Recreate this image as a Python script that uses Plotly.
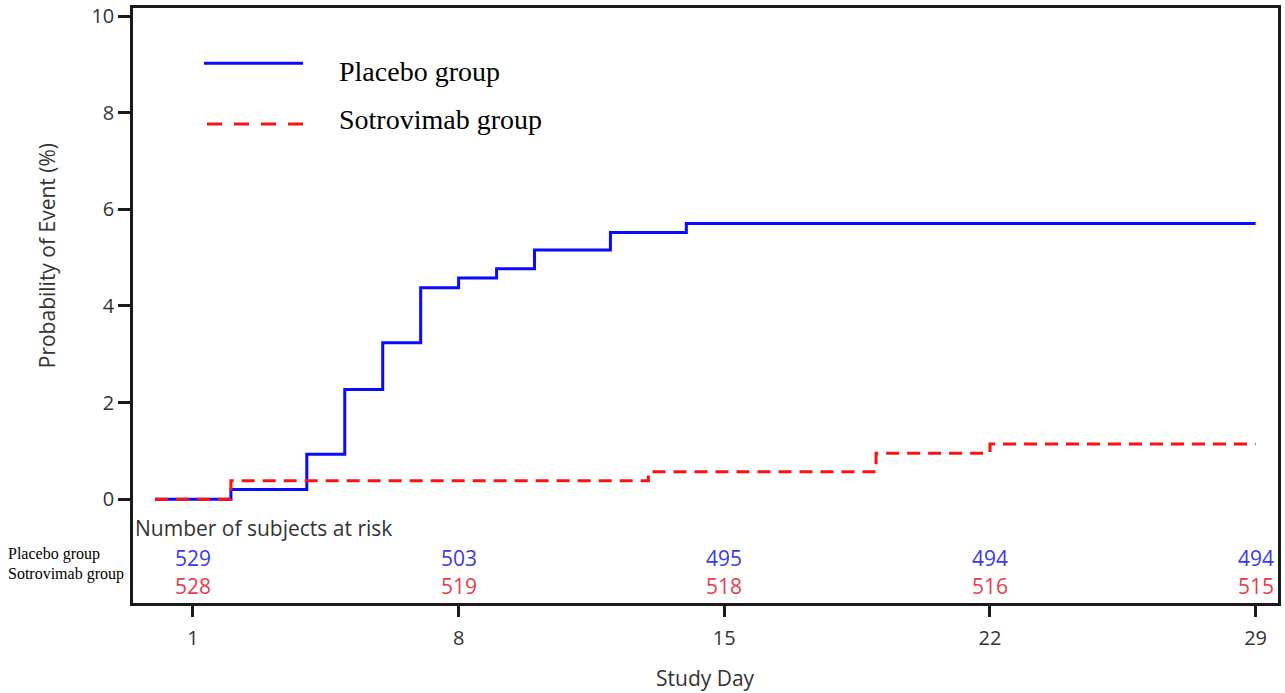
import plotly.graph_objects as go

# ---- data ----
placebo_days = [0, 2, 4, 5, 6, 7, 8, 9, 10, 12, 14, 29]
placebo_prob = [0, 0.2, 0.93, 2.27, 3.24, 4.38, 4.58, 4.77, 5.16, 5.52, 5.71, 5.71]
sotro_days = [0, 2, 13, 19, 22, 29]
sotro_prob = [0, 0.38, 0.57, 0.95, 1.14, 1.14]

risk_days = [1, 8, 15, 22, 29]
placebo_risk = [529, 503, 495, 494, 494]
sotro_risk = [528, 519, 518, 516, 515]

x_ticks = [1, 8, 15, 22, 29]
y_ticks = [0, 2, 4, 6, 8, 10]

BLUE = "#0a0aff"
RED = "#ff1010"
BLUE_TXT = "#3a3ae6"
RED_TXT = "#e6404a"
SANS = "Open Sans"
SERIF = "Liberation Serif"
GREY = "#333333"

fig = go.Figure()
fig.add_trace(go.Scatter(x=placebo_days, y=placebo_prob, mode="lines", line_shape="hv",
                         line=dict(color=BLUE, width=3), name="Placebo group", showlegend=False))
fig.add_trace(go.Scatter(x=sotro_days, y=sotro_prob, mode="lines", line_shape="hv",
                         line=dict(color=RED, width=3, dash="13px,8px"), name="Sotrovimab group",
                         showlegend=False))

# risk table
fig.add_annotation(x=0.0, xref="paper", y=-0.59, yref="y", text="Number of subjects at risk",
                   showarrow=False, xanchor="left", yanchor="middle",
                   font=dict(family=SANS, size=21, color=GREY))
for d, n in zip(risk_days, placebo_risk):
    fig.add_annotation(x=d, y=-1.22, text=str(n), showarrow=False, xanchor="center", yanchor="middle",
                       font=dict(family=SANS, size=21, color=BLUE_TXT))
for d, n in zip(risk_days, sotro_risk):
    fig.add_annotation(x=d, y=-1.79, text=str(n), showarrow=False, xanchor="center", yanchor="middle",
                       font=dict(family=SANS, size=21, color=RED_TXT))

# row labels outside the plot
fig.add_annotation(x=-0.1105, xref="paper", y=-1.14, yref="y", text="Placebo group", showarrow=False,
                   xanchor="left", yanchor="middle", font=dict(family=SERIF, size=16, color="black"))
fig.add_annotation(x=-0.1105, xref="paper", y=-1.54, yref="y", text="Sotrovimab group", showarrow=False,
                   xanchor="left", yanchor="middle", font=dict(family=SERIF, size=16, color="black"))

# legend (drawn manually)
fig.add_shape(type="line", xref="paper", yref="paper", x0=0.062, x1=0.1485, y0=0.907, y1=0.907,
              line=dict(color=BLUE, width=3))
fig.add_shape(type="line", xref="paper", yref="paper", x0=0.0646, x1=0.1485, y0=0.805, y1=0.805,
              line=dict(color=RED, width=3, dash="15px,12px"))
fig.add_annotation(x=0.178, xref="paper", y=0.893, yref="paper", text="Placebo group", showarrow=False,
                   xanchor="left", yanchor="middle", font=dict(family=SERIF, size=28, color="black"))
fig.add_annotation(x=0.178, xref="paper", y=0.813, yref="paper", text="Sotrovimab group", showarrow=False,
                   xanchor="left", yanchor="middle", font=dict(family=SERIF, size=28, color="black"))

# axis titles
fig.add_annotation(x=-0.075, xref="paper", y=0.583, yref="paper", text="Probability of Event (%)",
                   showarrow=False, textangle=-90, xanchor="center", yanchor="middle",
                   font=dict(family=SANS, size=21, color=GREY))
fig.add_annotation(x=0.5, xref="paper", y=-0.126, yref="paper", text="Study Day",
                   showarrow=False, xanchor="center", yanchor="middle",
                   font=dict(family=SANS, size=21, color=GREY))

fig.update_xaxes(range=[-0.58, 29.59], tickvals=x_ticks, ticktext=[str(t) for t in x_ticks],
                 showgrid=False, zeroline=False, showline=True, linecolor="#1a1a1a", linewidth=2.5,
                 mirror=True, ticks="outside", ticklen=11, tickwidth=2.5, tickcolor="#1a1a1a",
                 ticklabelstandoff=4, automargin=False,
                 tickfont=dict(family=SANS, size=20, color=GREY))
fig.update_yaxes(range=[-2.15, 10.17], tickvals=y_ticks, ticktext=[str(t) for t in y_ticks],
                 showgrid=False, zeroline=False, showline=True, linecolor="#1a1a1a", linewidth=2.5,
                 mirror=True, ticks="outside", ticklen=12, tickwidth=2.5, tickcolor="#1a1a1a",
                 automargin=False, ticklabeloverflow="allow",
                 tickfont=dict(family=SANS, size=20, color=GREY))

fig.update_layout(width=1285, height=693, margin=dict(l=133, r=7, t=8, b=90),
                  plot_bgcolor="white", paper_bgcolor="white", showlegend=False)

# remove the default page margin so the figure fills the window exactly
fig.write_html("out.html", config={"displayModeBar": False},
               post_script="document.body.style.margin='0';document.body.style.overflow='hidden';")
